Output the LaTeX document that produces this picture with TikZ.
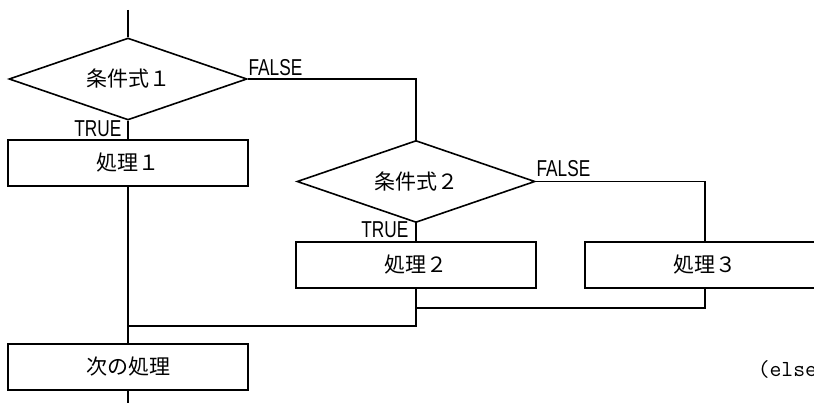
\documentclass[tikz,border=0pt]{standalone}
\usepackage{fontspec}
\setmainfont{Noto Sans CJK JP}
\newfontfamily\labelfont{Liberation Sans}
\usetikzlibrary{shapes.geometric}

\begin{document}
\begin{tikzpicture}[x=1pt,y=-1pt,line width=1.6pt,
  every node/.style={inner sep=0pt},
  cond/.style={draw,diamond,shape aspect=2.9,minimum width=238pt,minimum height=82pt,
    font=\fontsize{21}{21}\selectfont},
  proc/.style={draw,rectangle,minimum width=240pt,minimum height=46pt,
    font=\fontsize{21}{21}\selectfont},
  branch/.style={font=\labelfont\fontsize{23}{23}\selectfont,xscale=0.75}]
  \useasboundingbox (0,0) rectangle (814,403);
  \coordinate (start) at (128,10);
  \node[cond] (cond1) at (128,79) {条件式１};
  \node[proc] (proc1) at (128,163) {処理１};
  \node[cond] (cond2) at (416,181.5) {条件式２};
  \node[proc] (proc2) at (416,265) {処理２};
  \node[proc] (proc3) at (705,265) {処理３};
  \node[proc] (next) at (128,367) {次の処理};
  \coordinate (end) at (128,403);
  \coordinate (join3) at (416,308);
  \coordinate (join2) at (416,326);
  \coordinate (join1) at (128,326);

  \node[branch,anchor=south west] (false1) at (248,77) {FALSE};
  \node[branch,anchor=south east] (true1) at (122,138) {TRUE};
  \node[branch,anchor=south west] (false2) at (536,178) {FALSE};
  \node[branch,anchor=south east] (true2) at (409,239) {TRUE};
  \node[font=\ttfamily\fontsize{23}{23}\selectfont,anchor=west] (else) at (757,369) {(else};

  \draw (start) -- (cond1.north);
  \draw (cond1.east) -| (cond2.north);
  \draw (cond1.south) -- (proc1.north);
  \draw (proc1.south) -- (next.north);
  \draw (cond2.east) -| (proc3.north);
  \draw (cond2.south) -- (proc2.north);
  \draw (proc3.south) |- (join3);
  \draw (proc2.south) -- (join2) -- (join1);
  \draw (next.south) -- (end);
\end{tikzpicture}
\end{document}
